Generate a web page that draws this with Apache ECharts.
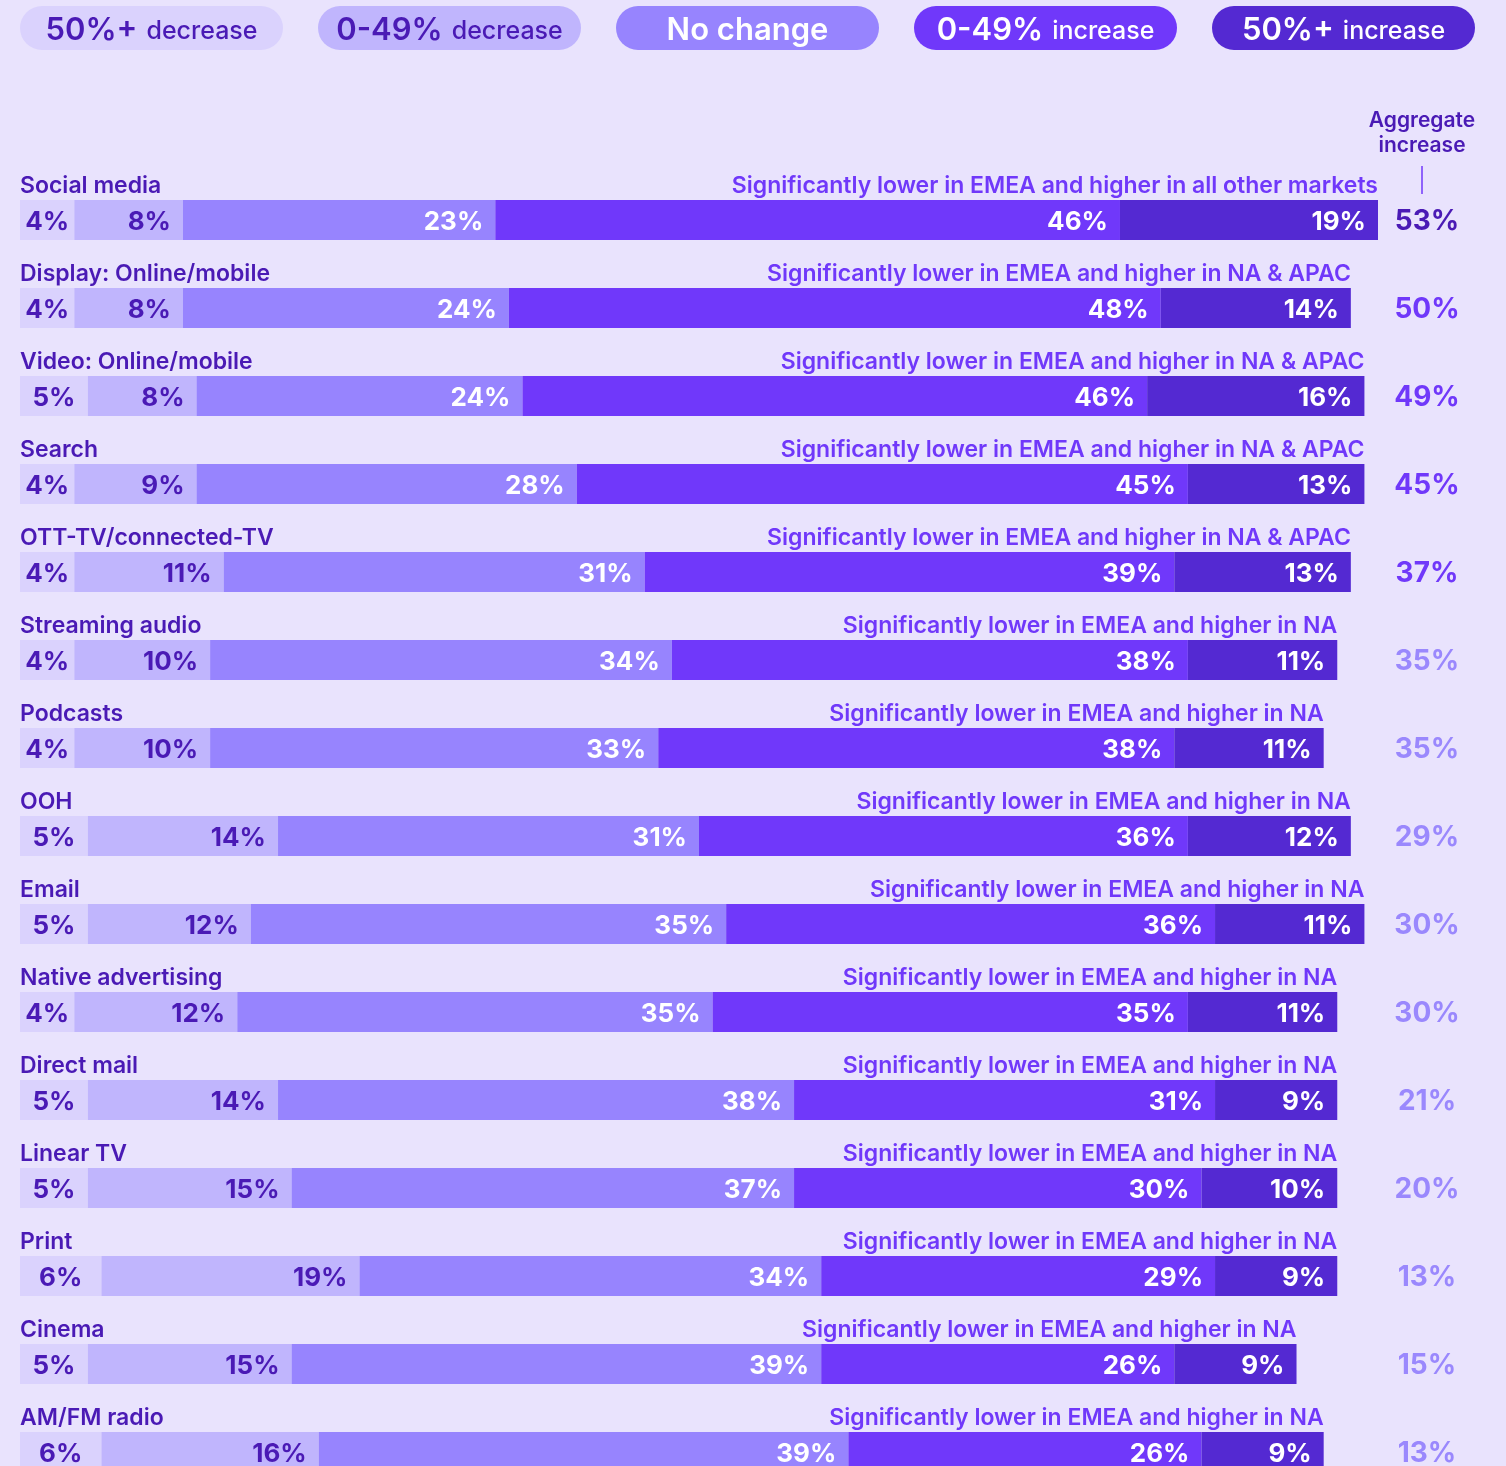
<!DOCTYPE html>
<html>
<head>
<meta charset="utf-8">
<script src="https://cdn.jsdelivr.net/npm/echarts@6/dist/echarts.min.js"></script>
<style>
html,body{margin:0;padding:0;background:#E9E3FD;overflow:hidden;}
#chart{width:1506px;height:1520px;}
</style>
</head>
<body>
<div id="chart"></div>
<script>
const categories = ['Social media','Display: Online/mobile','Video: Online/mobile','Search','OTT-TV/connected-TV','Streaming audio','Podcasts','OOH','Email','Native advertising','Direct mail','Linear TV','Print','Cinema','AM/FM radio'];
const dec50 = [4,4,5,4,4,4,4,5,5,4,5,5,6,5,6];
const dec49 = [8,8,8,9,11,10,10,14,12,12,14,15,19,15,16];
const noChange = [23,24,24,28,31,34,33,31,35,35,38,37,34,39,39];
const inc49 = [46,48,46,45,39,38,38,36,36,35,31,30,29,26,26];
const inc50 = [19,14,16,13,13,11,11,12,11,11,9,10,9,9,9];
const aggregate = [53,50,49,45,37,35,35,29,30,30,21,20,13,15,13];
const aggregateTier = ['top','high','high','high','high','base','base','base','base','base','base','base','base','base','base'];
const notes = [
  'Significantly lower in EMEA and higher in all other markets',
  'Significantly lower in EMEA and higher in NA & APAC',
  'Significantly lower in EMEA and higher in NA & APAC',
  'Significantly lower in EMEA and higher in NA & APAC',
  'Significantly lower in EMEA and higher in NA & APAC',
  'Significantly lower in EMEA and higher in NA',
  'Significantly lower in EMEA and higher in NA',
  'Significantly lower in EMEA and higher in NA',
  'Significantly lower in EMEA and higher in NA',
  'Significantly lower in EMEA and higher in NA',
  'Significantly lower in EMEA and higher in NA',
  'Significantly lower in EMEA and higher in NA',
  'Significantly lower in EMEA and higher in NA',
  'Significantly lower in EMEA and higher in NA',
  'Significantly lower in EMEA and higher in NA'
];
const seriesNames = ['50%+ decrease','0-49% decrease','No change','0-49% increase','50%+ increase'];
const legendBig = ['50%+','0-49%','No change','0-49%','50%+'];
const legendSmall = ['decrease','decrease','','increase','increase'];

const FONT = 'Inter, "Noto Sans", sans-serif';
const DARK = '#4A1AB5';
const colors = ['#DAD2FD','#C0B5FD','#9784FE','#7038FA','#5429D2'];
const labelColors = [DARK, DARK, '#FFFFFF', '#FFFFFF', '#FFFFFF'];
const tierColor = {top: DARK, high: '#7038FA', base: '#9A88FD'};
const values = [dec50, dec49, noChange, inc49, inc50];
const totals = categories.map((c, i) => values.reduce((s, arr) => s + arr[i], 0));

const chart = echarts.init(document.getElementById('chart'), null, {renderer: 'canvas'});

const barSeries = values.map((arr, k) => ({
  name: seriesNames[k],
  type: 'bar',
  stack: 'total',
  barWidth: 40,
  data: arr,
  itemStyle: {color: colors[k]},
  label: {
    show: true,
    position: k === 0 ? 'inside' : 'insideRight',
    distance: 12,
    offset: [0, 2],
    formatter: '{c}%',
    color: labelColors[k],
    fontFamily: FONT,
    fontSize: 26,
    fontWeight: 700
  },
  emphasis: {disabled: true},
  animation: false
}));

const textSeries = {
  type: 'custom',
  coordinateSystem: 'cartesian2d',
  xAxisIndex: 0,
  yAxisIndex: 0,
  data: categories.map((c, i) => [totals[i], i]),
  renderItem: function (params, api) {
    const i = api.value(1);
    const tot = api.value(0);
    const p0 = api.coord([0, i]);
    const p1 = api.coord([tot, i]);
    return {
      type: 'group',
      children: [
        {type: 'text', x: p0[0], y: p0[1] - 34,
         style: {text: categories[i], fill: DARK, font: '600 23px ' + FONT, align: 'left', verticalAlign: 'middle'}},
        {type: 'text', x: p1[0], y: p1[1] - 34,
         style: {text: notes[i], fill: '#7038FA', font: '600 23px ' + FONT, align: 'right', verticalAlign: 'middle'}}
      ]
    };
  },
  animation: false,
  z: 5
};

const pillW = 263, pillH = 44, pillGap = 35, pillX0 = 20, pillY = 6;
const graphics = [];
legendBig.forEach((b, k) => {
  const x = pillX0 + k * (pillW + pillGap);
  const txtColor = k < 2 ? DARK : '#FFFFFF';
  graphics.push({type: 'rect', shape: {x: x, y: pillY, width: pillW, height: pillH, r: 22},
    style: {fill: colors[k]}});
  const text = legendSmall[k] ? '{b|' + b + '}{s|' + legendSmall[k] + '}' : '{b|' + b + '}';
  graphics.push({type: 'text', x: x + pillW / 2, y: pillY + pillH / 2 + 3,
    style: {text: text, align: 'center', verticalAlign: 'middle',
      rich: {
        b: {fontFamily: FONT, fontSize: 31, fontWeight: 600, fill: txtColor, color: txtColor},
        s: {fontFamily: FONT, fontSize: 25, fontWeight: 500, fill: txtColor, color: txtColor, padding: [0, 0, 0, 9]}
      }}});
});
graphics.push({type: 'text', x: 1422, y: 133,
  style: {text: 'Aggregate\nincrease', align: 'center', verticalAlign: 'middle', lineHeight: 25,
    fill: DARK, font: '600 21px ' + FONT}});
graphics.push({type: 'line', shape: {x1: 1422, y1: 166, x2: 1422, y2: 194},
  style: {stroke: '#7038FA', lineWidth: 1.5}});

chart.setOption({
  backgroundColor: '#E9E3FD',
  animation: false,
  grid: {left: 20, top: 176, width: 1358, height: 1320, containLabel: false},
  xAxis: {type: 'value', min: 0, max: 100, show: false},
  yAxis: [
    {type: 'category', data: categories, inverse: true, show: false},
    {type: 'category', data: aggregate.map(v => v + '%'), inverse: true, position: 'right',
     axisLine: {show: false}, axisTick: {show: false}, splitLine: {show: false},
     axisLabel: {
       interval: 0, margin: 49, align: 'center',
       formatter: function (v, i) { return '{' + aggregateTier[i] + '|' + v + '}'; },
       rich: {
         top: {color: tierColor.top, fontFamily: FONT, fontSize: 28, fontWeight: 700, padding: [4, 0, 0, 0]},
         high: {color: tierColor.high, fontFamily: FONT, fontSize: 28, fontWeight: 700, padding: [4, 0, 0, 0]},
         base: {color: tierColor.base, fontFamily: FONT, fontSize: 28, fontWeight: 700, padding: [4, 0, 0, 0]}
       }
     }}
  ],
  graphic: graphics,
  series: barSeries.concat([textSeries])
});
</script>
</body>
</html>
